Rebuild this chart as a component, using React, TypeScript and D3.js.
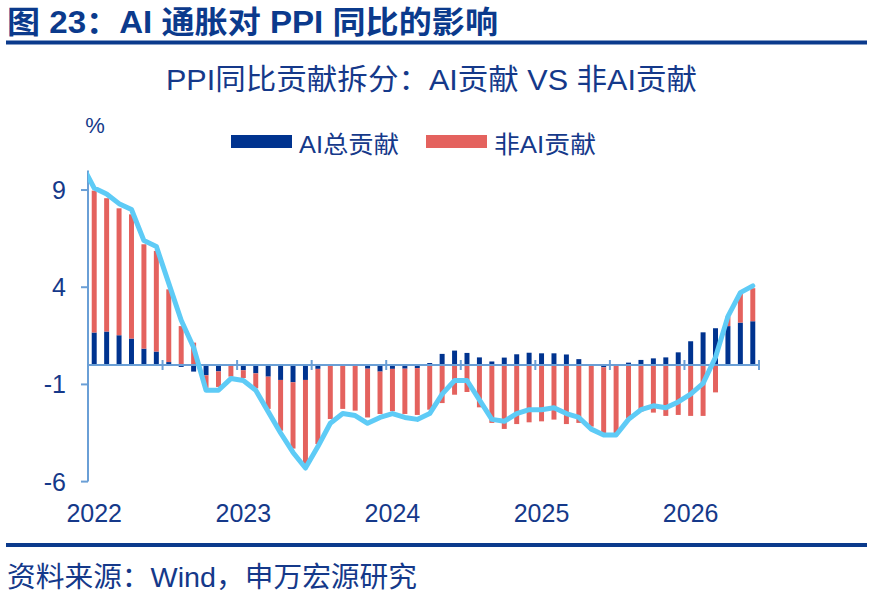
import React, { useEffect, useRef } from 'react';
import * as d3 from 'd3';

// monthly categories, Jan 2022 - Jun 2026
const months = [
  '2022-01', '2022-02', '2022-03', '2022-04', '2022-05', '2022-06', '2022-07', '2022-08', '2022-09', '2022-10', '2022-11', '2022-12',
  '2023-01', '2023-02', '2023-03', '2023-04', '2023-05', '2023-06', '2023-07', '2023-08', '2023-09', '2023-10', '2023-11', '2023-12',
  '2024-01', '2024-02', '2024-03', '2024-04', '2024-05', '2024-06', '2024-07', '2024-08', '2024-09', '2024-10', '2024-11', '2024-12',
  '2025-01', '2025-02', '2025-03', '2025-04', '2025-05', '2025-06', '2025-07', '2025-08', '2025-09', '2025-10', '2025-11', '2025-12',
  '2026-01', '2026-02', '2026-03', '2026-04', '2026-05', '2026-06',
];

const yearLabels = ['2022', '2023', '2024', '2025', '2026'];

// AI总贡献
const aiContribution = [
  1.67, 1.72, 1.53, 1.36, 0.84, 0.69, 0.15, -0.10, -0.34, -0.53, -0.33, -0.05,
  -0.27, -0.43, -0.60, -0.77, -0.89, -0.77, -0.20, 0.00, 0.00, -0.05, -0.19, -0.34,
  -0.20, -0.19, -0.16, 0.10, 0.57, 0.74, 0.62, 0.39, 0.18, 0.38, 0.55, 0.63,
  0.60, 0.60, 0.54, 0.30, 0.02, -0.12, 0.00, 0.12, 0.26, 0.34, 0.39, 0.65,
  1.22, 1.68, 1.89, 2.00, 2.18, 2.25,
];

// 非AI贡献
const nonAiContribution = [
  7.30, 6.86, 6.53, 6.39, 5.37, 5.18, 3.74, 2.00, 1.15, -0.65, -0.80, -0.55,
  -0.40, -0.77, -1.66, -2.61, -3.41, -4.41, -3.87, -2.78, -2.26, -2.30, -2.51, -2.18,
  -2.18, -2.33, -2.41, -2.30, -1.96, -1.53, -1.39, -2.18, -2.98, -3.29, -3.04, -2.95,
  -2.90, -2.81, -3.04, -2.98, -3.17, -3.40, -3.52, -2.75, -2.40, -2.45, -2.62, -2.57,
  -2.62, -2.62, -1.41, 0.50, 1.50, 1.70,
];

// PPI同比 line, starts one month before the bars (clipped at the axis)
const ppiMonths = ['2021-12', ...months];
const ppiYoY = [
  10.3,
  9.1, 8.8, 8.3, 8.0, 6.4, 6.1, 4.2, 2.3, 0.9, -1.3, -1.3, -0.7,
  -0.8, -1.3, -2.4, -3.5, -4.5, -5.3, -4.2, -3.0, -2.5, -2.6, -3.0, -2.7,
  -2.5, -2.7, -2.8, -2.5, -1.5, -0.8, -0.8, -1.8, -2.8, -2.9, -2.5, -2.3,
  -2.3, -2.2, -2.5, -2.7, -3.3, -3.6, -3.6, -2.8, -2.3, -2.1, -2.2, -1.9,
  -1.5, -0.95, 0.4, 2.5, 3.72, 4.07,
];

const yTicks = [-6, -1, 4, 9];

const App: React.FC = () => {
  const svgRef = useRef<SVGSVGElement>(null);

  useEffect(() => {
    if (!svgRef.current) return;
    const svg = d3.select(svgRef.current);
    svg.selectAll('*').remove();

    const width = 873;
    const height = 596;
    const navy = '#0b3a8c';
    const textColor = '#15398a';
    const axisColor = '#6a9fd6';
    const blue = '#00338f';
    const red = '#e4625e';
    const lineColor = '#5ecbf6';
    const font = '"Liberation Sans", "Noto Sans CJK SC", sans-serif';

    svg.attr('width', width).attr('height', height).style('font-family', font);

    const x = d3.scaleBand<string>()
      .domain(months)
      .range([88, 759])
      .paddingInner(0.6)
      .paddingOuter(0.3);

    const y = d3.scaleLinear().domain([-6, 10]).range([481.6, 170.6]);

    // the source text is set wider than the installed fonts, so stretch to its length
    const label = (tx: number, ty: number, size: number, str: string, len?: number) => {
      const t = svg.append('text')
        .attr('x', tx).attr('y', ty)
        .attr('fill', textColor)
        .style('font-size', `${size}px`)
        .text(str);
      if (len) t.attr('textLength', len).attr('lengthAdjust', 'spacingAndGlyphs');
      return t;
    };

    // header
    label(7, 33, 31, '图 23：AI 通胀对 PPI 同比的影响', 491)
      .attr('fill', navy)
      .style('font-weight', 'bold');

    svg.append('rect')
      .attr('x', 6).attr('y', 40.5).attr('width', 861).attr('height', 4)
      .attr('fill', navy);

    label(166, 90, 29, 'PPI同比贡献拆分：AI贡献 VS 非AI贡献', 531);

    label(95, 133, 22, '%').attr('text-anchor', 'middle');

    // legend
    const legend = [
      { label: 'AI总贡献', color: blue, x: 231, len: 100 },
      { label: '非AI贡献', color: red, x: 426, len: 102 },
    ];
    legend.forEach(l => {
      svg.append('rect')
        .attr('x', l.x).attr('y', 135).attr('width', 61).attr('height', 13)
        .attr('fill', l.color);
      label(l.x + 68, 153, 24, l.label, l.len);
    });

    // stacked bars (diverging)
    const rows = months.map((m, i) => ({ month: m, ai: aiContribution[i], nonAi: nonAiContribution[i] }));
    const series = d3.stack<{ month: string; ai: number; nonAi: number }>()
      .keys(['ai', 'nonAi'])
      .offset(d3.stackOffsetDiverging)(rows);
    const colors: Record<string, string> = { ai: blue, nonAi: red };

    svg.append('g')
      .selectAll('g')
      .data(series)
      .enter()
      .append('g')
      .attr('fill', s => colors[s.key])
      .selectAll('rect')
      .data(s => s)
      .enter()
      .append('rect')
      .attr('x', d => x(d.data.month)!)
      .attr('width', x.bandwidth())
      .attr('y', d => y(Math.max(d[0], d[1])))
      .attr('height', d => Math.abs(y(d[0]) - y(d[1])));

    // x axis on zero line
    const step = x.step();
    const x0 = 88;
    const zeroY = y(0);
    const xAxis = svg.append('g').attr('stroke', axisColor).attr('stroke-width', 2);
    xAxis.append('line')
      .attr('x1', x0).attr('x2', 759)
      .attr('y1', zeroY).attr('y2', zeroY);
    d3.range(6, months.length + 1, 6).forEach(i => {
      const bx = x0 + i * step;
      xAxis.append('line')
        .attr('x1', bx).attr('x2', bx)
        .attr('y1', zeroY - 5).attr('y2', zeroY + 5);
    });

    yearLabels.forEach(yr => {
      label(x(`${yr}-01`)! + x.bandwidth() / 2, 522, 25, yr).attr('text-anchor', 'middle');
    });

    // y axis
    const yAxis = svg.append('g').attr('stroke', axisColor).attr('stroke-width', 2);
    yAxis.append('line')
      .attr('x1', x0).attr('x2', x0)
      .attr('y1', y(10)).attr('y2', y(-6));
    yTicks.forEach(t => {
      yAxis.append('line')
        .attr('x1', x0 - 7).attr('x2', x0)
        .attr('y1', y(t)).attr('y2', y(t));
      label(66, y(t), 25, String(t))
        .attr('dy', '0.36em')
        .attr('text-anchor', 'end');
    });

    // PPI line
    svg.append('clipPath')
      .attr('id', 'plot-clip')
      .append('rect')
      .attr('x', x0).attr('y', y(10))
      .attr('width', 680).attr('height', y(-6) - y(10) + 10);

    const lineX = (i: number) => x(months[0])! + x.bandwidth() / 2 + (i - 1) * step;
    const line = d3.line<number>()
      .x((_, i) => lineX(i))
      .y(d => y(d));

    svg.append('path')
      .datum(ppiYoY)
      .attr('clip-path', 'url(#plot-clip)')
      .attr('d', line)
      .attr('fill', 'none')
      .attr('stroke', lineColor)
      .attr('stroke-width', 5)
      .attr('stroke-linejoin', 'round')
      .attr('stroke-linecap', 'round')
      .attr('data-months', ppiMonths.length);

    // footer
    svg.append('rect')
      .attr('x', 6).attr('y', 543).attr('width', 861).attr('height', 4)
      .attr('fill', navy);

    label(7, 587, 28, '资料来源：Wind，申万宏源研究', 410);
  }, []);

  return (
    <svg ref={svgRef} style={{ position: 'absolute', left: 0, top: 0, background: '#fff' }} />
  );
};

export default App;
